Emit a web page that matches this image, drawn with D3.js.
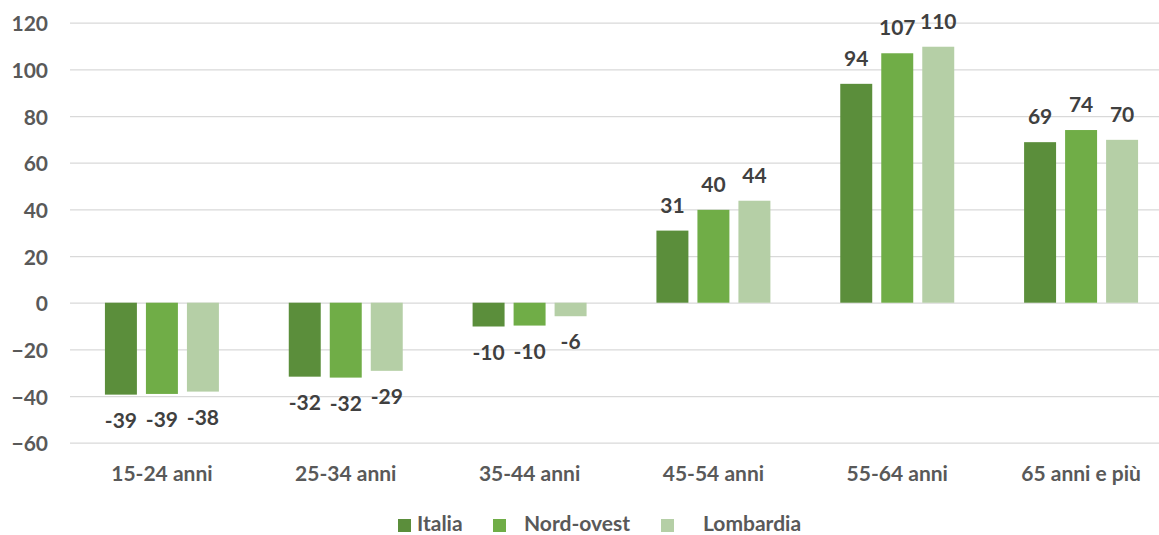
<!DOCTYPE html>
<html><head><meta charset="utf-8">
<script src="https://cdn.jsdelivr.net/npm/d3@7"></script>
<style>
html,body{margin:0;padding:0;background:#fff;}
svg{display:block;font-family:Lato,"Open Sans",sans-serif;font-weight:bold;}
</style></head>
<body>
<svg id="chart" width="1159" height="535"></svg>
<script>
const categories = ["15-24 anni","25-34 anni","35-44 anni","45-54 anni","55-64 anni","65 anni e più"];
const seriesNames = ["Italia","Nord-ovest","Lombardia"];
const italia    = [-39.4, -31.7, -10.2, 30.9, 93.8, 68.8];
const nordOvest = [-39.1, -32.1,  -9.8, 39.8, 106.9, 74.0];
const lombardia = [-38.1, -29.2,  -5.8, 43.7, 109.7, 69.8];
const labelsItalia    = ["-39","-32","-10","31","94","69"];
const labelsNordOvest = ["-39","-32","-10","40","107","74"];
const labelsLombardia = ["-38","-29","-6","44","110","70"];
const yTicks = [-60,-40,-20,0,20,40,60,80,100,120];
const colors = ["#5b8e3b","#70ad47","#b5cfa6"];

const series = [
  {name: seriesNames[0], values: italia, labels: labelsItalia, color: colors[0]},
  {name: seriesNames[1], values: nordOvest, labels: labelsNordOvest, color: colors[1]},
  {name: seriesNames[2], values: lombardia, labels: labelsLombardia, color: colors[2]}
];

const svg = d3.select("#chart");
const x0 = d3.scaleBand().domain(categories).range([70, 1173]).paddingInner(0).paddingOuter(0);
const bw = x0.bandwidth();
const x1 = d3.scaleBand().domain(seriesNames).range([bw/2 - 61.5, bw/2 + 61.5]).paddingInner(0.22).paddingOuter(0.11);
const y = d3.scaleLinear().domain([-60, 120]).range([442.7, 22.7]);

// gridlines + y labels
const yAxis = d3.axisLeft(y).tickValues(yTicks).tickSize(-(1159-70)).tickPadding(22).tickFormat(d3.format("d"));
const gAxis = svg.append("g").attr("transform","translate(70,0)").call(yAxis);
gAxis.select(".domain").remove();
gAxis.selectAll(".tick line").attr("stroke","#d9d9d9").attr("stroke-width",1.3);
gAxis.selectAll(".tick text").attr("fill","#595959").attr("dy","0.38em").style("font-size","21px").style("font-family","Lato,sans-serif").style("font-weight","bold");

// bars
const groups = svg.append("g").selectAll("g").data(series).join("g").attr("fill", d => d.color);
groups.selectAll("rect").data(s => s.values.map((v,i)=>({v, c: categories[i], name: s.name, label: s.labels[i]})))
  .join("rect")
  .attr("x", d => x0(d.c) + x1(d.name))
  .attr("width", x1.bandwidth())
  .attr("y", d => y(Math.max(0, d.v)))
  .attr("height", d => Math.abs(y(d.v) - y(0)));

// data labels
const lbl = svg.append("g");
series.forEach(s => {
  lbl.selectAll(null).data(s.values.map((v,i)=>({v, c: categories[i], label: s.labels[i]})))
    .join("text")
    .attr("x", d => x0(d.c) + x1(s.name) + x1.bandwidth()/2)
    .attr("y", d => d.v >= 0 ? y(d.v) - 18 : y(d.v) + 33)
    .attr("text-anchor","middle")
    .attr("fill","#404040")
    .style("font-size","21px")
    .text(d => d.label);
});

// category labels
const xAxis = d3.axisBottom(x0).tickSize(0).tickPadding(0);
const gx = svg.append("g").attr("transform","translate(0,481)").call(xAxis);
gx.select(".domain").remove();
gx.selectAll(".tick text").attr("fill","#595959").attr("dy","0").style("font-size","21px").style("font-family","Lato,sans-serif").style("font-weight","bold");

// legend
const legendSquareX = [398, 493, 661];
const legendTextX = [417, 524, 703];
const leg = svg.append("g");
series.forEach((s,i) => {
  leg.append("rect").attr("x", legendSquareX[i]).attr("y", 519).attr("width", 13).attr("height", 13).attr("fill", s.color);
  leg.append("text").attr("x", legendTextX[i]).attr("y", 531).attr("fill","#595959").style("font-size","21px").text(s.name);
});
</script>
</body></html>
